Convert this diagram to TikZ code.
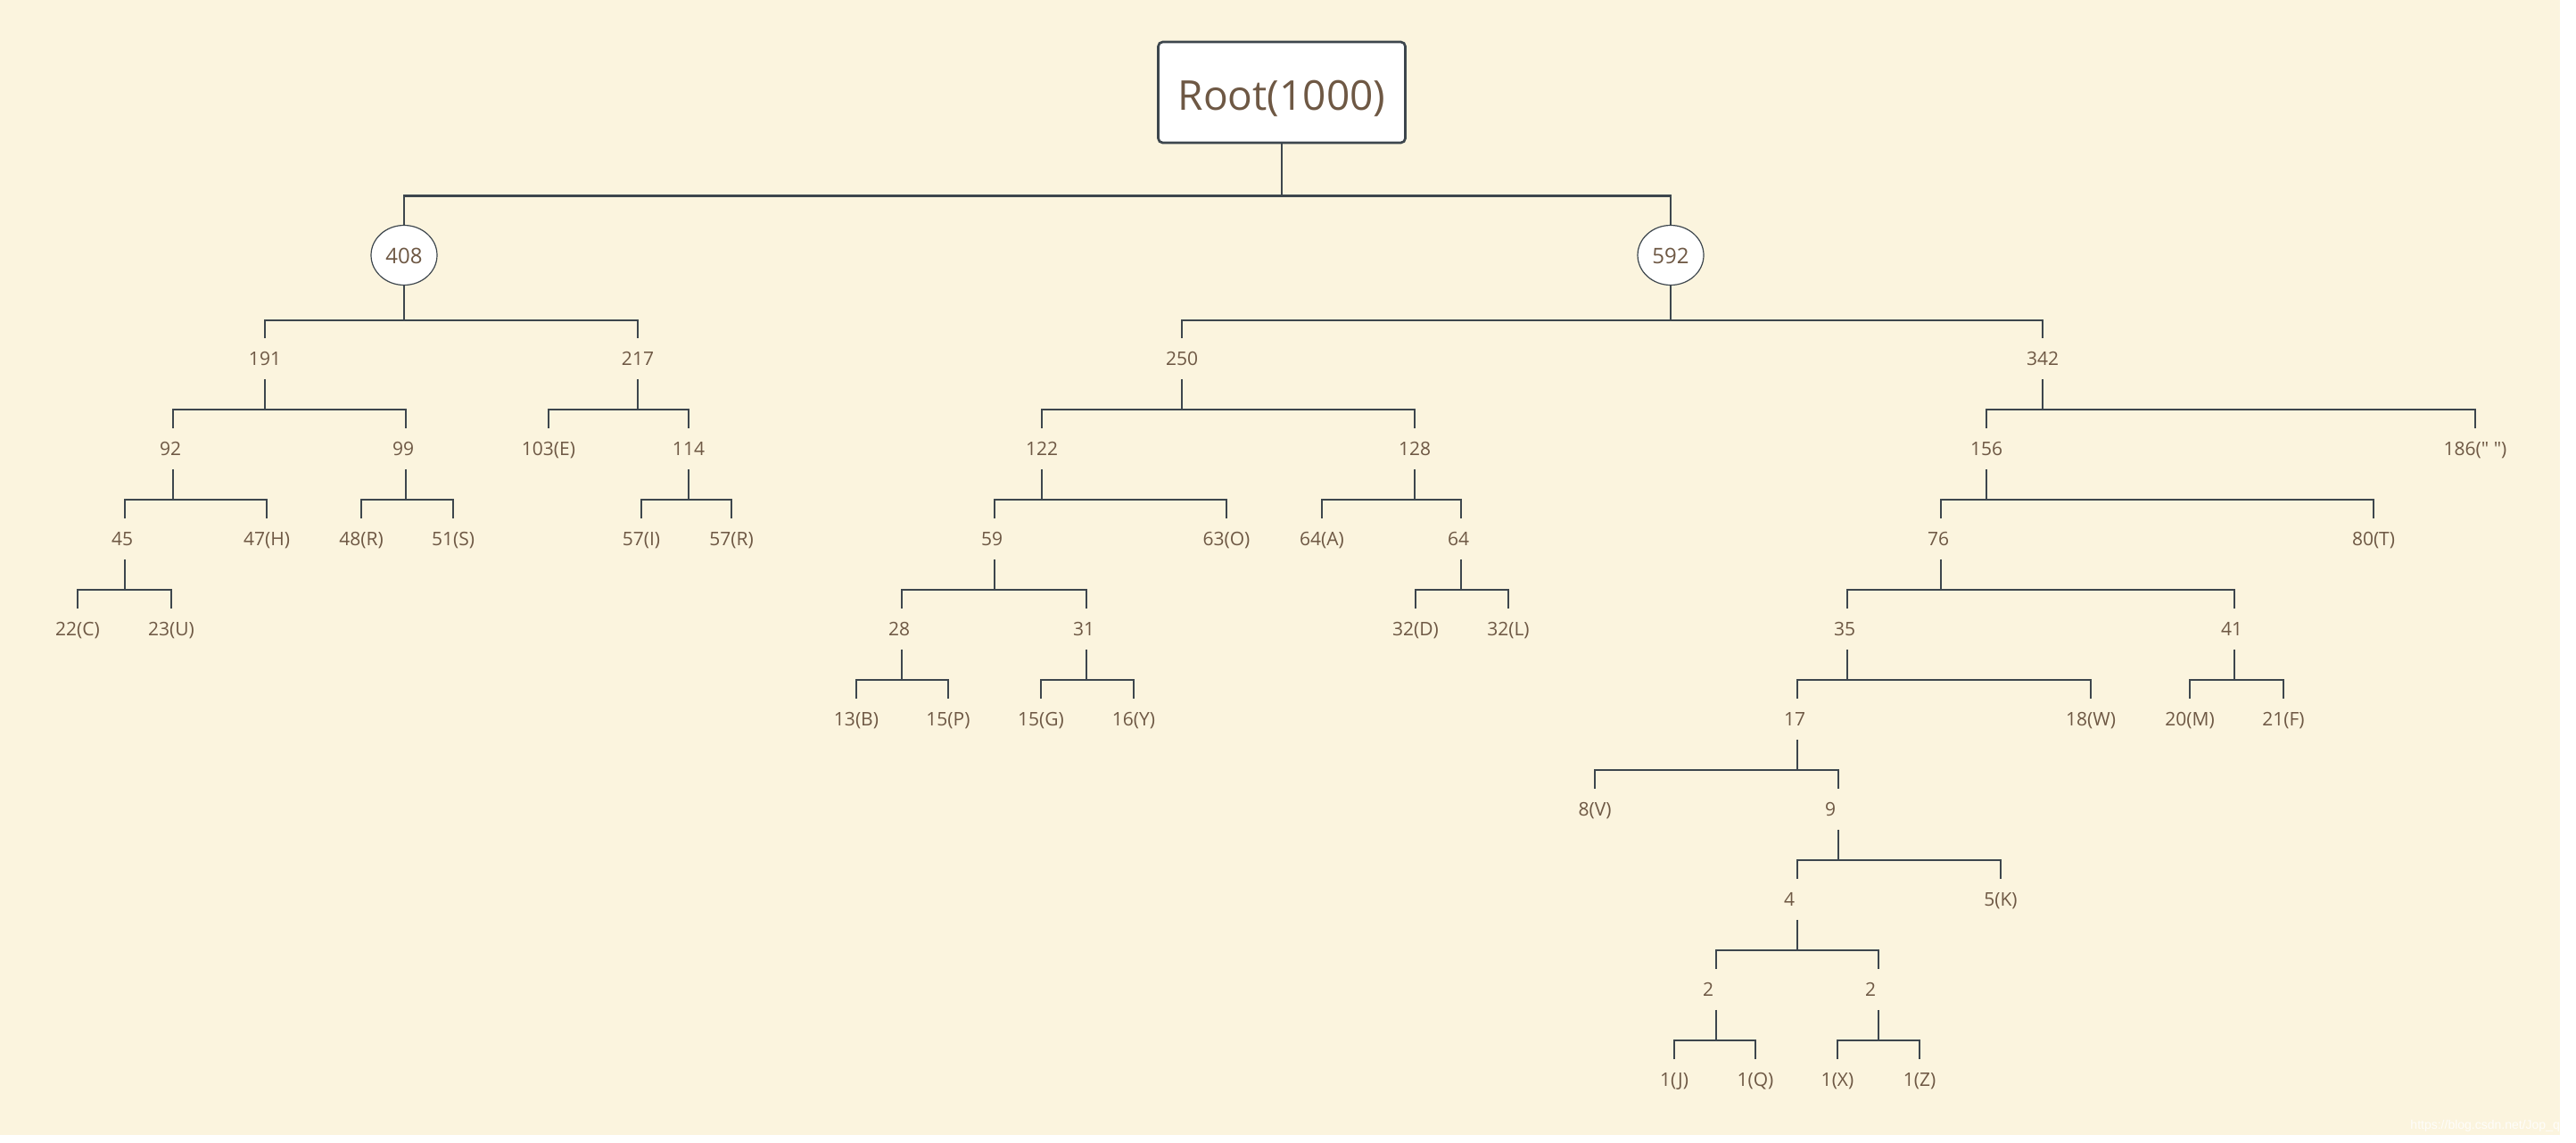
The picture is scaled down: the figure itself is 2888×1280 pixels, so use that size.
\documentclass[tikz,border=0pt]{standalone}
\usepackage{fontspec}
\setmainfont{Open Sans}[Ligatures=TeXOff]
\newfontfamily\wmfont{Liberation Sans}
\usetikzlibrary{shapes.geometric}
\definecolor{bg}{RGB}{251,244,222}
\definecolor{txt}{RGB}{110,88,68}
\definecolor{ln}{RGB}{61,70,77}
\newcommand\tlbl[1]{\setbox0\hbox{#1}\ifdim\wd0<30pt \makebox[30pt][l]{#1}\else\box0\fi}
\tikzset{
  lbl/.style={text=txt, font=\fontsize{21}{24}\selectfont, inner xsep=0pt, inner ysep=0pt,
    minimum height=46pt, text height=15pt, text depth=0pt},
  conn/.style={draw=ln, line width=1.8pt},
  rootconn/.style={draw=ln, line width=2.7pt},
  rootbox/.style={draw=ln, line width=2.7pt, fill=white, rounded corners=5pt,
    minimum width=277pt, minimum height=113pt, inner sep=0pt, text=txt,
    font=\fontsize{46}{50}\selectfont, text height=39pt, text depth=0pt},
  ellnode/.style={ellipse, draw=ln, line width=1.2pt, fill=white, minimum width=74pt,
    minimum height=67pt, inner sep=0pt, text=txt, font=\fontsize{24}{28}\selectfont,
    text height=18pt, text depth=0pt},
}
\begin{document}
\begin{tikzpicture}[x=1pt,y=-1pt]
\useasboundingbox (0,0) rectangle (2888,1280);
\fill[white] (0,0) rectangle (2888,1280);
\fill[bg] (0,0) rectangle (2870,1271.5);

% root and level 1
\node[rootbox] (root) at (1437,103.5) {Root(1000)};
\node[ellnode] (c408) at (453,286) {408};
\node[ellnode] (c592) at (1873,286) {592};

% level 2
\node[lbl] (n191) at (297,401.7) {\tlbl{191}};
\node[lbl] (n217) at (715,401.7) {\tlbl{217}};
\node[lbl] (n250) at (1325,401.7) {\tlbl{250}};
\node[lbl] (n342) at (2290,401.7) {\tlbl{342}};
% level 3
\node[lbl] (n92) at (194,502.7) {\tlbl{92}};
\node[lbl] (n99) at (455,502.7) {\tlbl{99}};
\node[lbl] (n103E) at (615,502.7) {\tlbl{103(E)}};
\node[lbl] (n114) at (772,502.7) {\tlbl{114}};
\node[lbl] (n122) at (1168,502.7) {\tlbl{122}};
\node[lbl] (n128) at (1586,502.7) {\tlbl{128}};
\node[lbl] (n156) at (2227,502.7) {\tlbl{156}};
\node[lbl] (n186) at (2775,502.7) {\tlbl{186(" ")}};
% level 4
\node[lbl] (n45) at (140,603.7) {\tlbl{45}};
\node[lbl] (n47H) at (299,603.7) {\tlbl{47(H)}};
\node[lbl] (n48R) at (405,603.7) {\tlbl{48(R)}};
\node[lbl] (n51S) at (508,603.7) {\tlbl{51(S)}};
\node[lbl] (n57I) at (719,603.7) {\tlbl{57(I)}};
\node[lbl] (n57R) at (820,603.7) {\tlbl{57(R)}};
\node[lbl] (n59) at (1115,603.7) {\tlbl{59}};
\node[lbl] (n63O) at (1375,603.7) {\tlbl{63(O)}};
\node[lbl] (n64A) at (1482,603.7) {\tlbl{64(A)}};
\node[lbl] (n64) at (1638,603.7) {\tlbl{64}};
\node[lbl] (n76) at (2176,603.7) {\tlbl{76}};
\node[lbl] (n80T) at (2661,603.7) {\tlbl{80(T)}};
% level 5
\node[lbl] (n22C) at (87,704.7) {\tlbl{22(C)}};
\node[lbl] (n23U) at (192,704.7) {\tlbl{23(U)}};
\node[lbl] (n28) at (1011,704.7) {\tlbl{28}};
\node[lbl] (n31) at (1218,704.7) {\tlbl{31}};
\node[lbl] (n32D) at (1587,704.7) {\tlbl{32(D)}};
\node[lbl] (n32L) at (1691,704.7) {\tlbl{32(L)}};
\node[lbl] (n35) at (2071,704.7) {\tlbl{35}};
\node[lbl] (n41) at (2505,704.7) {\tlbl{41}};
% level 6
\node[lbl] (n13B) at (960,805.7) {\tlbl{13(B)}};
\node[lbl] (n15P) at (1063,805.7) {\tlbl{15(P)}};
\node[lbl] (n15G) at (1167,805.7) {\tlbl{15(G)}};
\node[lbl] (n16Y) at (1271,805.7) {\tlbl{16(Y)}};
\node[lbl] (n17) at (2015,805.7) {\tlbl{17}};
\node[lbl] (n18W) at (2344,805.7) {\tlbl{18(W)}};
\node[lbl] (n20M) at (2455,805.7) {\tlbl{20(M)}};
\node[lbl] (n21F) at (2560,805.7) {\tlbl{21(F)}};
% level 7
\node[lbl] (n8V) at (1788,906.7) {\tlbl{8(V)}};
\node[lbl] (n9) at (2061,906.7) {\tlbl{9}};
% level 8
\node[lbl] (n4) at (2015,1007.7) {\tlbl{4}};
\node[lbl] (n5K) at (2243,1007.7) {\tlbl{5(K)}};
% level 9
\node[lbl] (n2a) at (1924,1108.7) {\tlbl{2}};
\node[lbl] (n2b) at (2106,1108.7) {\tlbl{2}};
% level 10
\node[lbl] (n1J) at (1877,1209.7) {\tlbl{1(J)}};
\node[lbl] (n1Q) at (1968,1209.7) {\tlbl{1(Q)}};
\node[lbl] (n1X) at (2060,1209.7) {\tlbl{1(X)}};
\node[lbl] (n1Z) at (2152,1209.7) {\tlbl{1(Z)}};

% connectors
\draw[rootconn] (root.south) -- ++(0,58) -| (c408.north);
\draw[rootconn] (root.south) -- ++(0,58) -| (c592.north);
\foreach \p/\a/\b in {c408/n191/n217, c592/n250/n342}{
  \draw[conn] (\p.south) -- ++(0,38.8) -| (\a.north);
  \draw[conn] (\p.south) -- ++(0,38.8) -| (\b.north);
}
\foreach \p/\a/\b in {n191/n92/n99, n217/n103E/n114, n92/n45/n47H, n99/n48R/n51S,
  n114/n57I/n57R, n45/n22C/n23U, n250/n122/n128, n122/n59/n63O, n128/n64A/n64,
  n59/n28/n31, n64/n32D/n32L, n28/n13B/n15P, n31/n15G/n16Y, n342/n156/n186,
  n156/n76/n80T, n76/n35/n41, n35/n17/n18W, n41/n20M/n21F, n17/n8V/n9,
  n9/n4/n5K, n4/n2a/n2b, n2a/n1J/n1Q, n2b/n1X/n1Z}{
  \draw[conn] (\p.south) -- ++(0,34.3) -| (\a.north);
  \draw[conn] (\p.south) -- ++(0,34.3) -| (\b.north);
}

% watermark
\node[text=white, opacity=0.85, font=\wmfont\fontsize{14}{16}\selectfont, inner sep=0pt,
  anchor=east] (wm) at (2870,1262) {https://blog.csdn.net/Jop\_q};
\end{tikzpicture}
\end{document}
